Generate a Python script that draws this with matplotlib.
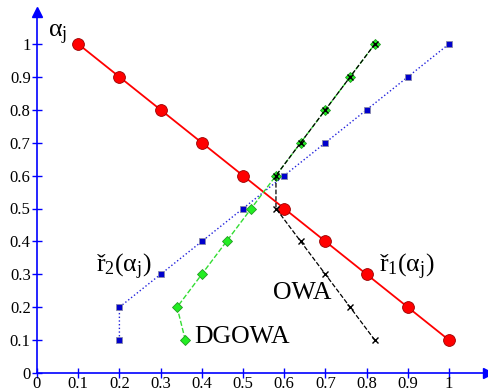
import matplotlib
matplotlib.use("Agg")
import matplotlib.pyplot as plt

plt.rcParams['font.family'] = ['Liberation Serif', 'DejaVu Serif']
plt.rcParams['mathtext.fontset'] = 'custom'
plt.rcParams['mathtext.rm'] = 'Liberation Serif'
plt.rcParams['mathtext.it'] = 'Liberation Serif:italic'

alpha = [0.1, 0.2, 0.3, 0.4, 0.5, 0.6, 0.7, 0.8, 0.9, 1.0]
r1 = [1.0, 0.9, 0.8, 0.7, 0.6, 0.5, 0.4, 0.3, 0.2, 0.1]
r2 = [0.2, 0.2, 0.3, 0.4, 0.5, 0.6, 0.7, 0.8, 0.9, 1.0]
dgowa = [0.36, 0.34, 0.40, 0.46, 0.52, 0.58, 0.64, 0.70, 0.76, 0.82]
owa = [0.82, 0.76, 0.70, 0.64, 0.58, 0.58, 0.64, 0.70, 0.76, 0.82]
ticks = [0, 0.1, 0.2, 0.3, 0.4, 0.5, 0.6, 0.7, 0.8, 0.9, 1]
tick_labels = ['0', '0.1', '0.2', '0.3', '0.4', '0.5', '0.6', '0.7', '0.8', '0.9', '1']

W, H = 489, 391
fig = plt.figure(figsize=(W/100, H/100), dpi=100)
xmax, ymax = 1.095, 1.097
ax = fig.add_axes([37/W, 18/H, xmax*412/W, ymax*329/H])
ax.set_xlim(0, xmax)
ax.set_ylim(0, ymax)

ax.plot(r2, alpha, ':', color='#2222dd', lw=1.0, marker='s', ms=4.5,
        mfc='#0000cc', mec='#8888aa', mew=0.6, zorder=3)
ax.plot(r1, alpha, '-', color='red', lw=1.3, marker='o', ms=8.5,
        mfc='red', mec='#990000', mew=0.6, zorder=4)
ax.plot(dgowa, alpha, '--', color='#33dd33', lw=1.0, marker='D', ms=5.5,
        mfc='#22ee22', mec='#229922', mew=0.6, zorder=5)
ax.plot(owa, alpha, '--', color='black', lw=0.9, marker='x', ms=5,
        mec='black', mew=1.0, zorder=6)

for s in ['top', 'right']:
    ax.spines[s].set_visible(False)
for s in ['left', 'bottom']:
    ax.spines[s].set_color('blue')
    ax.spines[s].set_linewidth(1.2)
ax.plot(1, 0, '>', color='blue', ms=7, transform=ax.transAxes, clip_on=False)
ax.plot(0, 1, '^', color='blue', ms=7, transform=ax.transAxes, clip_on=False)

ax.set_xticks(ticks)
ax.set_xticklabels(tick_labels)
ax.set_yticks(ticks)
ax.set_yticklabels(tick_labels)
ax.tick_params(direction='inout', length=7, width=1, color='blue',
               labelsize=12, pad=1)
ax.tick_params(axis='x', pad=-1)

fs = 18.5
ax.text(0.05, 1.028, r'α$_\mathrm{j}$', fontsize=fs, ha='center', va='center')
ax.text(0.211, 0.322, r'ř$_2$(α$_\mathrm{j}$)', fontsize=fs, ha='center', va='center')
ax.text(0.898, 0.322, r'ř$_1$(α$_\mathrm{j}$)', fontsize=fs, ha='center', va='center')
ax.text(0.643, 0.243, 'OWA', fontsize=fs, ha='center', va='center')
ax.text(0.498, 0.109, 'DGOWA', fontsize=fs, ha='center', va='center')

fig.savefig('out.png', dpi=100)
